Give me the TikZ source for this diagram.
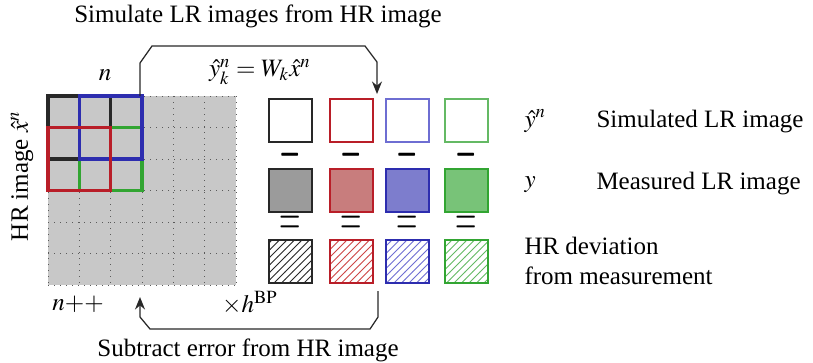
\documentclass[tikz,border=0pt]{standalone}
\usepackage{mathptmx}
\usepackage[no-math]{fontspec}
\setmainfont{Liberation Serif}
\usetikzlibrary{patterns,arrows.meta,calc}
\definecolor{kline}{RGB}{40,40,40}
\definecolor{rline}{RGB}{185,30,40}
\definecolor{bline}{RGB}{45,45,175}
\definecolor{gline}{RGB}{50,165,50}
\definecolor{rlight}{RGB}{205,70,70}
\definecolor{blight}{RGB}{110,110,210}
\definecolor{glight}{RGB}{100,185,100}
\definecolor{kfill}{RGB}{155,155,155}
\definecolor{rfill}{RGB}{200,125,125}
\definecolor{bfill}{RGB}{125,125,205}
\definecolor{gfill}{RGB}{120,195,120}
\definecolor{gridfill}{RGB}{200,200,200}
\definecolor{gridline}{RGB}{90,90,90}
\tikzset{
  sq/.style={minimum size=17.2pt, inner sep=0pt, line width=0.8pt},
  win/.style={line width=1.3pt},
  flow/.style={line width=0.5pt, kline},
  tip/.style={-{Stealth[length=5pt,width=4pt]}},
  lbl/.style={inner sep=0pt, font=\fontsize{10}{12}\selectfont},
  op/.style={inner sep=0pt, font=\fontsize{10}{12}\selectfont}
}
\begin{document}
\begin{tikzpicture}[x=0.4pt,y=-0.4pt]
\useasboundingbox (0,0) rectangle (813,362);
% HR grid
\fill[gridfill] (48,96) rectangle (236,285);
\foreach \i in {0,...,6}{
  \draw[gridline, dotted, line width=0.4pt] ({48+\i*188/6},96) -- ({48+\i*188/6},285);
  \draw[gridline, dotted, line width=0.4pt] (48,{96+\i*189/6}) -- (236,{96+\i*189/6});
}
\coordinate (g00) at (48,96);
\coordinate (g11) at (79.3,127.5);
\coordinate (g22) at (110.7,159);
\coordinate (g33) at (142,190.5);
\coordinate (g30) at (142,96);
\draw[win, kline] (g00) rectangle (g22);
\draw[win, gline] (g11) rectangle (g33);
\draw[win, bline] (79.3,96) rectangle (g30 |- g22);
\draw[win, rline] (48,127.5) rectangle (110.7,190.5);
% LR boxes
\node[sq, draw=kline] (s1) at (290.5,120) {};
\node[sq, draw=rline] (s2) at (351.5,120) {};
\node[sq, draw=blight] (s3) at (407,120) {};
\node[sq, draw=glight] (s4) at (466.5,120) {};
\node[sq, draw=kline, fill=kfill] (m1) at (290.5,190) {};
\node[sq, draw=rline, fill=rfill] (m2) at (351.5,190) {};
\node[sq, draw=bline, fill=bfill] (m3) at (407,190) {};
\node[sq, draw=gline, fill=gfill] (m4) at (466.5,190) {};
\node[sq, draw=kline, pattern=north east lines, pattern color=kline] (d1) at (290.5,261) {};
\node[sq, draw=rline, pattern=north east lines, pattern color=rlight] (d2) at (351.5,261) {};
\node[sq, draw=bline, pattern=north east lines, pattern color=blight] (d3) at (407,261) {};
\node[sq, draw=gline, pattern=north east lines, pattern color=glight] (d4) at (466.5,261) {};
\foreach \c in {1,2,3,4}{
  \node[op] (mi\c) at ($(s\c)!0.5!(m\c)$) {\scalebox{1.1}[3]{$-$}};
  \node[op] (eq\c) at ($(m\c)!0.5!(d\c)$) {\scalebox{1.1}[2]{$=$}};
}
% arrows
\coordinate (ta) at (140,96);
\coordinate (tb) at (377,94);
\draw[flow, tip] (ta) -- (140,63) -- (152,46) -- (365,46) -- (377,62) -- (tb);
\coordinate (ba) at (378,291);
\coordinate (bb) at (140,297);
\draw[flow, tip] (ba) -- (378,317) -- (370,329) -- (150,329) -- (140,317) -- (bb);
% labels
\node[lbl] (t1) at (258,16) {Simulate LR images from HR image};
\node[lbl] (t2) at (105,75) {$n$};
\node[lbl] (t3) at (260,72) {$\hat{y}_k^n = W_k\hat{x}^n$};
\node[lbl, rotate=90] (t4) at (22,176) {HR image $\hat{x}^n$};
\node[lbl] (t5) at (78,304) {$n{+}{+}$};
\node[lbl] (t6) at (250,303) {$\times h^{\mathrm{BP}}$};
\node[lbl] (t7) at (248,350) {Subtract error from HR image};
\node[lbl, anchor=west] (r1) at (524,121) {$\hat{y}^n$};
\node[lbl, anchor=west] (r2) at (596,122) {Simulated LR image};
\node[lbl, anchor=west] (r3) at (524,185) {$y$};
\node[lbl, anchor=west] (r4) at (596,184) {Measured LR image};
\node[lbl, anchor=west, align=left] (r5) at (524,261) {HR deviation\\from measurement};
\end{tikzpicture}
\end{document}
